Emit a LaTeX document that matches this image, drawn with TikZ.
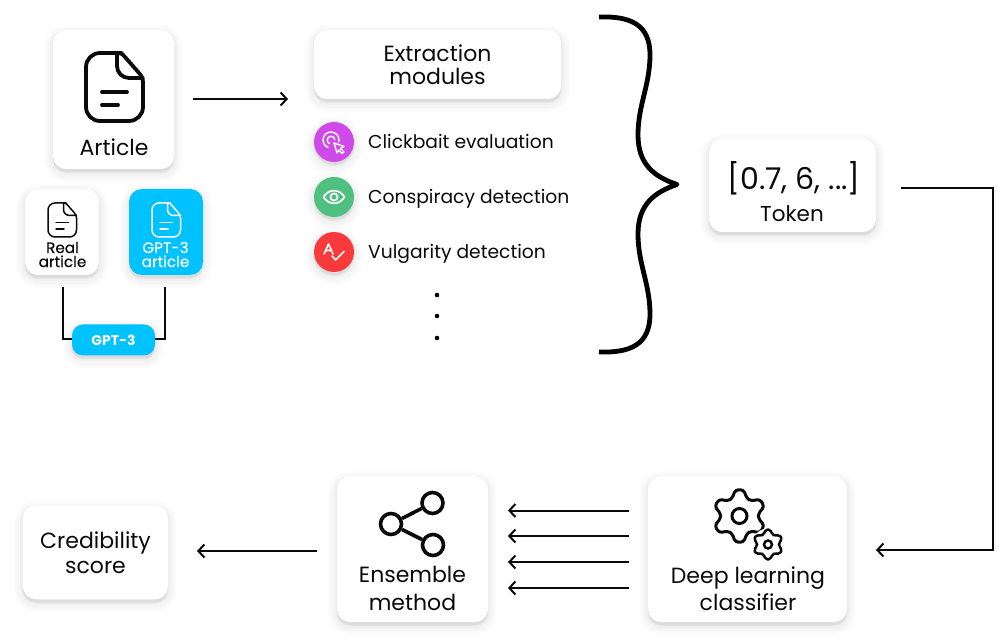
\documentclass[tikz,border=0pt]{standalone}
\usepackage{fontspec}
\setmainfont{Poppins}
\newfontfamily\medfont[FakeBold=0.35]{Poppins}
\usetikzlibrary{arrows.meta}
\definecolor{skyb}{HTML}{00C2FF}
\definecolor{clickc}{HTML}{CF4AE8}
\definecolor{consc}{HTML}{50C080}
\definecolor{vulgc}{HTML}{F83A3D}
\definecolor{inkc}{HTML}{0A0A0A}
\newcommand{\fsz}[2]{\fontsize{#1}{#2}\selectfont}
\tikzset{
  softshadow/.style={
    preaction={draw=black,fill=black,draw opacity=.012,fill opacity=.012,line width=18pt,transform canvas={yshift=-4pt}},
    preaction={draw=black,fill=black,draw opacity=.012,fill opacity=.012,line width=14pt,transform canvas={yshift=-4pt}},
    preaction={draw=black,fill=black,draw opacity=.014,fill opacity=.014,line width=10pt,transform canvas={yshift=-4pt}},
    preaction={draw=black,fill=black,draw opacity=.016,fill opacity=.016,line width=6pt,transform canvas={yshift=-3pt}},
    preaction={draw=black,fill=black,draw opacity=.016,fill opacity=.016,line width=3pt,transform canvas={yshift=-2pt}}},
  card/.style={softshadow,rectangle,rounded corners=#1,fill=white,inner sep=0pt,align=center,text=inkc},
  card/.default=13pt,
  bluecard/.style={card=#1,fill=skyb,text=white},
  disc/.style={softshadow,circle,inner sep=0pt,minimum size=40pt},
  lab/.style={inner sep=0pt,align=center,text=inkc},
  conn/.style={draw=inkc,line width=2pt},
  arr/.style={conn,-{Straight Barb[length=6pt,width=13pt,line width=2pt]}},
  white icon/.style={draw=white,line width=1.4pt,line cap=round,line join=round},
}
% document glyph, top left corner at #1
\newcommand{\docglyph}[4]{%
\begin{scope}[shift={(#1)},scale=#2,line cap=round,line join=round,draw=#3,line width=#4]
\draw (36,0) -- (14,0) arc[start angle=-90,end angle=-180,radius=14] -- (0,54) arc[start angle=180,end angle=90,radius=14] -- (43,68) arc[start angle=90,end angle=0,radius=14] -- (57,30) .. controls (57,26) and (56,23) .. (53,20) -- (39,4) .. controls (37,2) and (36,0) .. (33,0) -- (31,0) -- (31,13) arc[start angle=180,end angle=90,radius=12] -- (57,25);
\draw (16,39) -- (41,39);
\draw (16,52) -- (32,52);
\end{scope}}
% gear glyph
\newcommand{\gearglyph}[5]{%
\begin{scope}[shift={(#1)},draw=inkc,line width=#5,line join=round]
\draw[rounded corners=#4] (-113:#3) -- (-99:#2) -- (-81:#2) -- (-67:#3)
 \foreach \k in {1,...,5}{ -- ({-113+60*\k}:#3) -- ({-99+60*\k}:#2) -- ({-81+60*\k}:#2) -- ({-67+60*\k}:#3)} -- cycle;
\end{scope}}
\begin{document}
\begin{tikzpicture}[x=1pt,y=-1pt]
\useasboundingbox (0,0) rectangle (999,644);
\fill[white] (0,0) rectangle (999,644);

% cards
\node[card,minimum width=121pt,minimum height=139pt] (article) at (113.5,99.5) {};
\node[card,minimum width=74pt,minimum height=86pt] (real) at (62,232) {};
\node[bluecard=13pt,minimum width=74pt,minimum height=86pt] (gptart) at (166,232) {};
\node[card,minimum width=247pt,minimum height=69pt,font=\fsz{22}{23}] (extract) at (437.5,64.5) {Extraction\\modules};
\node[card,minimum width=167pt,minimum height=93pt] (token) at (792.5,185.5) {};
\node[card,minimum width=151pt,minimum height=146pt] (ensemble) at (412.5,549) {};
\node[card,minimum width=199pt,minimum height=146pt] (deep) at (747.5,549) {};
\node[card,minimum width=145pt,minimum height=94pt,font=\fsz{22}{25}] (cred) at (95.5,552.3) {Credibility\\score};

% GPT-3 link
\coordinate (reallow) at (63,287);
\coordinate (gptlow) at (165,287);
\draw[conn,line width=1.4pt] (reallow) -- (63,339) -- (75,339);
\draw[conn,line width=1.4pt] (gptlow) -- (165,339) -- (152,339);
\node[bluecard=11pt,minimum width=83pt,minimum height=31pt,font=\fsz{14}{15}\bfseries,text depth=0pt,yshift=-1.5pt,text height=11pt] (gpt) at (113.5,338.5) {GPT-3};

% labels
\node[lab,font=\fsz{22}{24}] (articlet) at (114,147) {Article};
\node[lab,font=\fsz{15.2}{14}\medfont] (realt) at (62.5,254.5) {Real\\article};
\node[lab,font=\fsz{15.2}{14}\medfont,text=white] (gptt) at (165.5,254.5) {GPT-3\\article};
\node[lab,font=\fsz{30}{31}] (tokv) at (794,178) {[0.7, 6, ...]};
\node[lab,font=\fsz{21.5}{23}] (tokt) at (792,214) {Token};
\node[lab,font=\fsz{22}{27.5}] (enst) at (412.5,588.5) {Ensemble\\method};
\node[lab,font=\fsz{22}{27.5}] (deept) at (748,588.5) {Deep learning\\classifier};

% doc icons
\docglyph{86,53}{1}{inkc}{3.8pt}
\docglyph{48,203}{.5}{inkc}{1.5pt}
\docglyph{152,203}{.5}{white}{1.5pt}

% module list
\node[disc,fill=clickc] (d1) at (334,142) {};
\node[disc,fill=consc] (d2) at (334,197) {};
\node[disc,fill=vulgc] (d3) at (334,252) {};
\node[lab,anchor=base west,font=\fsz{18.7}{20}] (m1) at (368,148.5) {Clickbait evaluation};
\node[lab,anchor=base west,font=\fsz{18.7}{20}] (m2) at (368,203.5) {Conspiracy detection};
\node[lab,anchor=base west,font=\fsz{18.7}{20}] (m3) at (368,258.5) {Vulgarity detection};
% clickbait icon
\begin{scope}[shift={(334,142)}]
\draw[white icon] (-3,-2) ++(15:8) arc[start angle=15,end angle=-250,radius=8];
\draw[white icon] (-3,-2) ++(-5:3.8) arc[start angle=-5,end angle=-250,radius=3.8];
\draw[white icon,fill=clickc] (0,1) -- (10,4.5) -- (6.5,6.5) -- (10,10) -- (8,11.5) -- (4.8,8) -- (3,11) -- cycle;
\end{scope}
% eye icon
\begin{scope}[shift={(334,197)}]
\draw[white icon,line width=1.7pt] (-10.5,0) .. controls (-5,-8.5) and (5,-8.5) .. (10.5,0) .. controls (5,8.5) and (-5,8.5) .. (-10.5,0) -- cycle;
\draw[white icon,line width=1.7pt] (0,0) circle[radius=3.6];
\end{scope}
% vulgarity icon
\begin{scope}[shift={(334,252)}]
\draw[white icon,line width=1.6pt] (-10,2) -- (-5.5,-8) -- (-1,2) (-8.5,-1.5) -- (-2.5,-1.5);
\draw[white icon,line width=1.6pt] (-2,4) -- (1.5,8) -- (10,-0.5);
\end{scope}
\foreach \n/\y in {p1/295,p2/316,p3/338}{\node[circle,fill=black,inner sep=0pt,minimum size=4.6pt] (\n) at (437,\y) {};}

% brace
\coordinate (bt) at (599,17);
\coordinate (bb) at (599,352);
\coordinate (btip) at (677,184.5);
\draw[draw=black,line width=4.8pt,line join=round] (bt) .. controls (630,16) and (650,24) .. (650,55) .. controls (650,85) and (638,105) .. (638,135) .. controls (638,165) and (655,177) .. (btip) .. controls (655,192) and (638,204) .. (638,234) .. controls (638,264) and (650,284) .. (650,314) .. controls (650,345) and (630,353) .. (bb);

% connectors
\coordinate (a1) at (193,99);
\coordinate (a2) at (288,99);
\draw[arr] (a1) -- (a2);
\coordinate (ts) at (901,188);
\coordinate (te) at (876,550);
\draw[arr] (ts) -- (993,188) -- (993,550) -- (te);
\foreach \n/\y in {1/510.5,2/536,3/562,4/588}{
  \coordinate (ds\n) at (629,\y);
  \coordinate (es\n) at (508,\y);
  \draw[arr] (ds\n) -- (es\n);
}
\coordinate (cs) at (317,551);
\coordinate (ce) at (197,551);
\draw[arr] (cs) -- (ce);

% ensemble icon
\begin{scope}[draw=inkc,line width=3.6pt]
\node[circle,draw=inkc,line width=3.6pt,inner sep=0pt,minimum size=21pt] (sa) at (432.5,503) {};
\node[circle,draw=inkc,line width=3.6pt,inner sep=0pt,minimum size=21pt] (sb) at (391,524) {};
\node[circle,draw=inkc,line width=3.6pt,inner sep=0pt,minimum size=21pt] (sc) at (433,545) {};
\draw (sb) -- (sa);
\draw (sb) -- (sc);
\end{scope}

% gears
\gearglyph{739.5,516}{26.5}{19}{3pt}{3pt}
\draw[draw=inkc,line width=3pt] (739.5,516) circle[radius=7.5];
\fill[white] (768,544.5) circle[radius=16];
\gearglyph{768,544.5}{15}{11}{1.8pt}{2.5pt}
\draw[draw=inkc,line width=2.5pt] (768,544.5) circle[radius=4];
\end{tikzpicture}
\end{document}
